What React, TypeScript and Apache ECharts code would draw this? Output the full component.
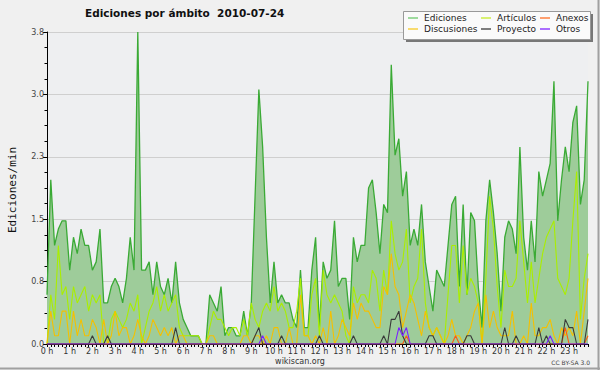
import React, { useEffect, useRef } from 'react';
import * as echarts from 'echarts';

const hourLabels = ['0 h','1 h','2 h','3 h','4 h','5 h','6 h','7 h','8 h','9 h','10 h','11 h','12 h','13 h','14 h','15 h','16 h','17 h','18 h','19 h','20 h','21 h','22 h','23 h'];
const minuteSteps = ['00','10','20','30','40','50'];
const yTicks = [0, 0.76, 1.52, 2.28, 3.04, 3.8];

const ediciones = [
0.6,2.0,1.2,1.4,1.5,1.5,0.9,1.3,1.1,1.4,
1.2,1.2,0.9,1.0,1.4,0.5,0.5,0.7,0.8,0.7,
0.5,0.8,1.3,0.9,3.8,0.9,0.9,1.0,0.6,1.0,
0.7,0.6,0.8,0.5,1.0,0.5,0.3,0.2,0.1,0.1,
0.1,0,0,0.6,0.5,0.4,0.7,0.1,0.2,0.2,
0.1,0.1,0.4,0.1,0.5,1.8,3.1,2.4,1.3,0.5,
1.0,0.5,0.6,0.5,0.5,0.3,0.2,0.9,0.2,0.2,
0.9,1.3,0.2,1.0,0.8,0.9,1.5,0.7,0.8,0.8,
0.3,1.3,1.0,1.2,1.2,1.9,2.0,1.6,1.1,1.7,
1.6,3.4,2.3,2.5,1.8,2.1,1.2,1.4,1.2,1.7,
1.0,0.7,0.4,0.9,0.8,0.7,1.2,1.7,1.8,0.7,
1.7,0.6,1.6,1.5,0.7,0.2,1.5,2.0,1.6,1.1,
0.4,1.3,1.5,1.4,1.1,2.4,1.3,0.9,1.5,1.0,
2.1,1.8,2.0,2.2,3.2,1.5,2.0,2.4,2.1,2.7,
2.9,1.7,2.0,3.2];

const articulos = [
0,0.6,0.3,1.2,0.6,0.7,0.3,0.7,0.5,0.6,
0.7,0.4,0.6,0.5,0.6,0,0,0.3,0.4,0.3,
0.2,0.3,0.5,0.4,0.6,0,0.2,0.4,0.5,0.7,
0.4,0.6,0.4,0.5,0.6,0.2,0.1,0.1,0.1,0.1,
0.1,0,0,0.2,0.4,0.3,0.3,0.2,0.1,0.2,
0.2,0.1,0.3,0.1,0.5,0.3,0.2,0.4,0.5,0.4,
0.7,0.4,0.5,0.4,0.2,0.2,0.4,0.8,0.1,0.1,
0.6,0.8,0.1,0.9,0.6,0.5,0.6,0.5,0.4,0.1,
0,0.7,0.5,0.6,0.6,0.5,0.9,0.8,0.4,0.9,
0.6,1.5,1.1,0.9,1.0,1.4,0.5,0.7,0.8,1.4,
0.5,0.2,0.1,0.2,0.1,0,0.6,1.2,1.2,0.5,
1.2,0.6,0.8,0.7,0.5,0,0.8,1.8,1.4,0.7,
0.2,0.9,0.7,0.7,0.8,1.5,1.0,0.5,1.0,0.5,
0.8,1.1,1.3,1.4,1.5,0.8,0.7,0.6,0.8,1.5,
2.1,0.3,0.8,1.1];

const discusiones = [
0,0.4,0.1,0.1,0.4,0.4,0,0.4,0.1,0.3,
0.1,0.1,0.3,0.2,0,0.3,0,0.1,0.4,0.1,
0.2,0.2,0,0.1,0.3,0.1,0,0.1,0.3,0.2,
0.1,0.2,0.1,0.2,0,0.1,0.1,0,0,0,
0,0,0,0.1,0.1,0,0,0,0,0,
0,0,0.1,0.1,0,0.1,0.1,0,0.1,0,
0.2,0.2,0,0,0.2,0,0,0.6,0.1,0.1,
0,0.1,0,0.2,0,0.4,0,0.1,0.3,0.2,
0.1,0.5,0.3,0.5,0.4,0.4,0.3,0.2,0.2,0.7,
0.6,1.1,0.7,0.6,0.2,0.4,0.6,0.5,0.3,0.1,
0.4,0.2,0.1,0.2,0.1,0,0.1,0.3,0.1,0.1,
0,0.1,0.2,0.4,0.5,0,0.6,0.2,0.4,0.2,
0.1,0.1,0.1,0.4,0,0,0.1,0,0.5,0.1,
0.1,0.2,0.2,0.3,0.1,0,0.2,0.1,0.2,0.1,
0.4,0,0.4,0.8];

const anexos = [
0,0,0,0,0,0,0,0,0,0,
0,0,0,0,0,0,0,0,0,0,
0,0,0,0,0,0,0,0,0,0,
0,0,0,0,0,0,0,0,0,0,
0,0,0,0,0,0,0,0,0,0,
0,0,0,0,0,0,0,0,0,0,
0,0,0,0,0,0,0,0,0,0,
0,0,0,0,0,0,0,0,0,0,
0,0,0,0,0,0,0,0,0,0,
0,0,0,0,0,0.1,0,0,0,0,
0,0,0,0,0,0,0,0,0.1,0,
0,0,0,0,0,0,0,0,0,0,
0,0,0,0,0,0,0,0,0,0,
0,0,0,0,0,0,0,0.2,0,0,
0,0,0,0.1];

const proyecto = [
0,0,0,0,0,0,0,0,0,0,
0,0,0.1,0,0,0,0.1,0,0,0,
0,0,0,0,0,0,0,0,0,0,
0,0,0,0,0.2,0,0,0,0,0,
0,0,0,0,0,0,0,0,0,0,
0,0,0,0,0,0.1,0.2,0,0,0,
0,0,0.1,0,0,0,0,0,0,0,
0,0,0.1,0,0,0,0,0,0,0,
0,0.1,0,0,0,0,0,0,0,0.1,
0,0.3,0.3,0.4,0.1,0,0,0,0,0,
0,0.1,0.1,0,0,0,0,0,0,0,
0,0.1,0.1,0,0,0,0,0,0,0,
0,0.2,0,0,0.1,0,0,0,0,0,
0.2,0,0.1,0,0,0,0,0.3,0.2,0.2,
0,0,0,0.3];

const otros = [
0,0,0,0,0,0,0,0,0,0,
0,0,0,0,0,0,0,0,0,0,
0,0,0,0,0,0,0,0,0,0,
0,0,0,0,0,0,0,0,0,0,
0,0,0,0,0,0,0,0,0,0,
0,0,0,0,0,0,0,0.1,0,0,
0,0,0,0,0,0,0,0,0,0,
0,0,0,0,0,0,0,0,0,0,
0,0,0,0,0,0,0,0,0,0,
0,0,0,0.2,0.1,0.2,0,0,0,0,
0,0,0,0,0,0,0,0,0,0,
0,0,0,0,0,0,0,0,0,0,
0,0,0,0,0,0,0,0,0,0,
0,0,0,0.1,0,0,0,0,0,0,
0,0,0,0];

const FONT = 'DejaVu Sans';

export default function App() {
  const ref = useRef<HTMLDivElement>(null);
  useEffect(() => {
    if (!ref.current) return;
    const chart = echarts.init(ref.current, null, { renderer: 'svg' });
    const categories: string[] = [];
    hourLabels.forEach((_h, hi) => minuteSteps.forEach((m) => categories.push(hi + ':' + m)));

    const lineSeries = (name: string, data: number[], color: string, width: number, z: number) => ({
      name, type: 'line', data, symbol: 'none', z,
      lineStyle: { color, width },
      itemStyle: { color },
      emphasis: { disabled: true },
    });

    const legendBase = {
      orient: 'vertical', top: 13, padding: 0, itemGap: 1, itemWidth: 10, itemHeight: 1.5,
      icon: 'rect', selectedMode: false, z: 20,
      textStyle: { fontSize: 9, color: '#222', fontFamily: FONT, lineHeight: 10, padding: [0, 0, 0, 1] },
    };

    const option: any = {
      animation: false,
      backgroundColor: '#f0f0f0',
      title: {
        text: 'Ediciones por ámbito\u00a0\u00a02010-07-24', left: 85, top: 7, padding: 0,
        textStyle: { fontSize: 10.5, fontWeight: 'bold', color: '#111', fontFamily: FONT },
      },
      legend: [
        { ...legendBase, left: 408, data: [
          { name: 'Ediciones', itemStyle: { color: '#7fcf7f' } },
          { name: 'Discusiones', itemStyle: { color: '#f7d040' } } ] },
        { ...legendBase, left: 481, data: [
          { name: 'Artículos', itemStyle: { color: '#ccee44' } },
          { name: 'Proyecto', itemStyle: { color: '#555555' } } ] },
        { ...legendBase, left: 540, data: [
          { name: 'Anexos', itemStyle: { color: '#ff8040' } },
          { name: 'Otros', itemStyle: { color: '#9040ff' } } ] },
      ],
      grid: { left: 47, right: 12, top: 32, bottom: 26, show: true, backgroundColor: '#eeeff1', borderWidth: 0 },
      xAxis: {
        type: 'category', data: categories, boundaryGap: false,
        axisLine: { lineStyle: { color: '#000', width: 1 } },
        axisTick: { show: true, interval: 0, length: 3, lineStyle: { color: '#000' } },
        axisLabel: {
          interval: (i: number) => i % 6 === 0,
          formatter: (_v: string, i: number) => hourLabels[Math.floor(i / 6)],
          fontSize: 8, color: '#333', margin: 3, fontFamily: FONT,
        },
        splitLine: { show: false },
      },
      yAxis: {
        type: 'value', min: yTicks[0], max: yTicks[yTicks.length - 1], interval: yTicks[1],
        axisLine: { show: true, lineStyle: { color: '#000' } },
        axisTick: { show: true, length: 4, lineStyle: { color: '#000' } },
        minorTick: { show: true, splitNumber: 4, length: 2.5, lineStyle: { color: '#000' } },
        axisLabel: { formatter: (v: number) => v.toFixed(1), fontSize: 8, color: '#444', margin: 3, fontFamily: FONT },
        splitLine: { show: true, lineStyle: { color: '#cfcfcf', width: 1 } },
      },
      graphic: [
        { type: 'rect', z: 10, shape: { x: 406, y: 14, width: 187, height: 28 }, style: { fill: '#777' } },
        { type: 'rect', z: 11, shape: { x: 403.5, y: 11.5, width: 187, height: 28 }, style: { fill: '#fafafa', stroke: '#999', lineWidth: 1 } },
        { type: 'text', x: 12, y: 190, rotation: Math.PI / 2, z: 5,
          style: { text: 'Ediciones/min', fontSize: 11, fontFamily: 'DejaVu Sans Mono', fill: '#111', textAlign: 'center', textVerticalAlign: 'middle' } },
        { type: 'text', x: 300, y: 361, z: 5,
          style: { text: 'wikiscan.org', fontSize: 8, fontFamily: FONT, fill: '#333', textAlign: 'center', textVerticalAlign: 'middle' } },
        { type: 'text', x: 590, y: 362, z: 5,
          style: { text: 'CC BY-SA 3.0', fontSize: 6, fontFamily: FONT, fill: '#444', textAlign: 'right', textVerticalAlign: 'middle' } },
        { type: 'line', z: 5, shape: { x1: 598.5, y1: 0, x2: 598.5, y2: 370 }, style: { stroke: '#a0a0a0', lineWidth: 2 } },
        { type: 'line', z: 5, shape: { x1: 0, y1: 368.5, x2: 600, y2: 368.5 }, style: { stroke: '#a0a0a0', lineWidth: 2 } },
      ],
      series: [
        { ...lineSeries('Ediciones', ediciones, '#3aaa35', 1.3, 2), areaStyle: { color: '#9ecc9a', opacity: 1 } },
        lineSeries('Artículos', articulos, '#aaee00', 1.1, 3),
        lineSeries('Discusiones', discusiones, '#f5c000', 1.1, 4),
        lineSeries('Anexos', anexos, '#ff5a10', 1.1, 5),
        lineSeries('Proyecto', proyecto, '#3a3a3a', 1.1, 6),
        lineSeries('Otros', otros, '#7a20ff', 1.1, 7),
      ],
    };
    chart.setOption(option);
    return () => chart.dispose();
  }, []);
  return <div ref={ref} style={{ position: 'fixed', left: 0, top: 0, width: 600, height: 370 }} />;
}
